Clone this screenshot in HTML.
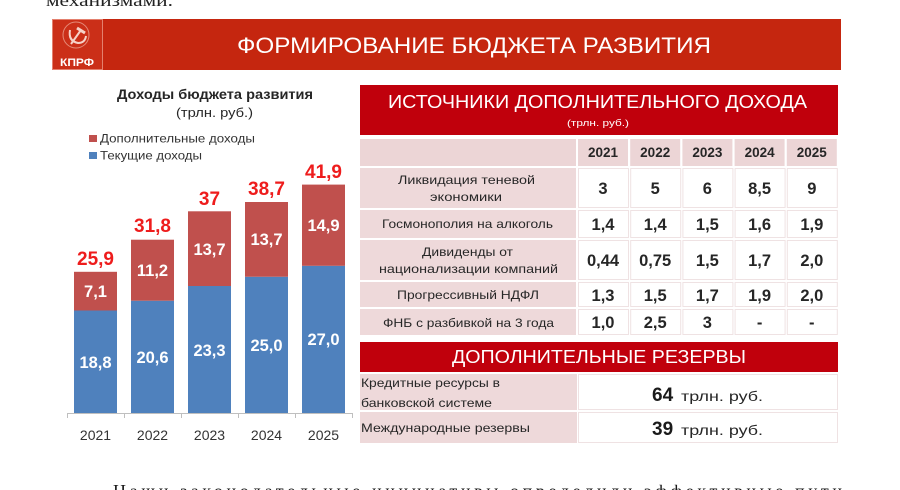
<!DOCTYPE html>
<html><head><meta charset="utf-8"><style>
html,body{margin:0;padding:0;background:#fff;}
svg{display:block;}
text{font-family:"Liberation Sans","DejaVu Sans",sans-serif;}
.serif{font-family:"Liberation Serif","DejaVu Serif",serif;}
</style></head><body>
<svg width="900" height="490" viewBox="0 0 900 490" xmlns="http://www.w3.org/2000/svg">
<rect width="900" height="490" fill="#fff"/>
<!-- top clipped text -->
<text class="serif" x="46" y="6" font-size="17" fill="#222" textLength="127" lengthAdjust="spacingAndGlyphs">механизмами.</text>

<!-- banner -->
<rect x="52" y="19" width="789" height="51" fill="#c5260f"/>
<rect x="52.5" y="19.5" width="50" height="50" fill="#cb2f18" stroke="#e4806e" stroke-width="1"/>
<circle cx="76" cy="35" r="13" fill="none" stroke="#e58a78" stroke-width="1"/>
<path d="M70 30 Q68 41 78 43 Q85 43 86 36" fill="none" stroke="#f6d2c8" stroke-width="2"/>
<path d="M71 44 L81 30" stroke="#f6d2c8" stroke-width="2"/>
<path d="M77 28 L85 33" stroke="#f6d2c8" stroke-width="3"/>
<text x="77" y="66" font-size="11" font-weight="bold" fill="#fff" text-anchor="middle" textLength="34" lengthAdjust="spacingAndGlyphs">КПРФ</text>
<text x="237" y="53" font-size="22" fill="#fff" textLength="474" lengthAdjust="spacingAndGlyphs">ФОРМИРОВАНИЕ БЮДЖЕТА РАЗВИТИЯ</text>

<!-- chart title & legend -->
<text x="117" y="99" font-size="13.5" font-weight="bold" fill="#262626" textLength="196" lengthAdjust="spacingAndGlyphs">Доходы бюджета развития</text>
<text x="176" y="117" font-size="13" fill="#262626" textLength="77" lengthAdjust="spacingAndGlyphs">(трлн. руб.)</text>
<rect x="89" y="135" width="8" height="7" fill="#c0504d"/>
<text x="100" y="142.5" font-size="12" fill="#333" textLength="155" lengthAdjust="spacingAndGlyphs">Дополнительные доходы</text>
<rect x="89" y="152" width="8" height="7" fill="#4f81bd"/>
<text x="100" y="159.5" font-size="12" fill="#333" textLength="102" lengthAdjust="spacingAndGlyphs">Текущие доходы</text>

<!-- bars -->
<g>
<rect x="74" y="310.5" width="43" height="102.5" fill="#4f81bd"/>
<rect x="74" y="271.8" width="43" height="38.7" fill="#c0504d"/>
<rect x="131" y="300.7" width="43" height="112.3" fill="#4f81bd"/>
<rect x="131" y="239.7" width="43" height="61" fill="#c0504d"/>
<rect x="188" y="286" width="43" height="127" fill="#4f81bd"/>
<rect x="188" y="211.3" width="43" height="74.7" fill="#c0504d"/>
<rect x="245" y="276.75" width="43" height="136.25" fill="#4f81bd"/>
<rect x="245" y="202" width="43" height="74.75" fill="#c0504d"/>
<rect x="302" y="265.8" width="43" height="147.2" fill="#4f81bd"/>
<rect x="302" y="184.6" width="43" height="81.2" fill="#c0504d"/>
</g>
<g stroke="#bfbfbf" stroke-width="1">
<line x1="67" y1="413.5" x2="352" y2="413.5"/>
<line x1="67.5" y1="413" x2="67.5" y2="418"/>
<line x1="124.5" y1="413" x2="124.5" y2="418"/>
<line x1="181.5" y1="413" x2="181.5" y2="418"/>
<line x1="238.5" y1="413" x2="238.5" y2="418"/>
<line x1="295.5" y1="413" x2="295.5" y2="418"/>
<line x1="352.5" y1="413" x2="352.5" y2="418"/>
</g>
<g font-size="16.5" font-weight="bold" fill="#fff" text-anchor="middle">
<text x="95.5" y="297">7,1</text>
<text x="95.5" y="368">18,8</text>
<text x="152.5" y="276">11,2</text>
<text x="152.5" y="363">20,6</text>
<text x="209.5" y="255">13,7</text>
<text x="209.5" y="356">23,3</text>
<text x="266.5" y="245">13,7</text>
<text x="266.5" y="351">25,0</text>
<text x="323.5" y="231">14,9</text>
<text x="323.5" y="345">27,0</text>
</g>
<g font-size="19" font-weight="bold" fill="#ee1c1c" text-anchor="middle">
<text x="95.5" y="265">25,9</text>
<text x="152.5" y="232">31,8</text>
<text x="209.5" y="205">37</text>
<text x="266.5" y="195">38,7</text>
<text x="323.5" y="178">41,9</text>
</g>
<g font-size="14" fill="#333" text-anchor="middle">
<text x="95.5" y="440">2021</text>
<text x="152.5" y="440">2022</text>
<text x="209.5" y="440">2023</text>
<text x="266.5" y="440">2024</text>
<text x="323.5" y="440">2025</text>
</g>

<!-- table 1 -->
<rect x="360" y="85" width="478" height="50" fill="#c0000c"/>
<text x="388" y="108" font-size="18" fill="#fff" textLength="419" lengthAdjust="spacingAndGlyphs">ИСТОЧНИКИ ДОПОЛНИТЕЛЬНОГО ДОХОДА</text>
<text x="598" y="126" font-size="9.5" fill="#fff" text-anchor="middle" textLength="62" lengthAdjust="spacingAndGlyphs">(трлн. руб.)</text>

<g fill="#ecd5d6">
<rect x="360" y="139" width="216" height="27"/>
<rect x="578" y="139" width="50" height="27"/>
<rect x="630.2" y="139" width="50" height="27"/>
<rect x="682.4" y="139" width="50" height="27"/>
<rect x="734.6" y="139" width="50" height="27"/>
<rect x="786.8" y="139" width="50" height="27"/>
</g>
<g fill="#eed9da">
<rect x="360" y="168" width="216" height="40"/>
<rect x="360" y="210" width="216" height="28"/>
<rect x="360" y="240" width="216" height="40"/>
<rect x="360" y="282" width="216" height="25"/>
<rect x="360" y="309" width="216" height="26"/>
</g>
<g fill="#fff" stroke="#efe2e3" stroke-width="1">
<rect x="578.5" y="168.5" width="50" height="39"/><rect x="630.7" y="168.5" width="50" height="39"/><rect x="682.9" y="168.5" width="50" height="39"/><rect x="735.1" y="168.5" width="50" height="39"/><rect x="787.3" y="168.5" width="50" height="39"/>
<rect x="578.5" y="210.5" width="50" height="27"/><rect x="630.7" y="210.5" width="50" height="27"/><rect x="682.9" y="210.5" width="50" height="27"/><rect x="735.1" y="210.5" width="50" height="27"/><rect x="787.3" y="210.5" width="50" height="27"/>
<rect x="578.5" y="240.5" width="50" height="39"/><rect x="630.7" y="240.5" width="50" height="39"/><rect x="682.9" y="240.5" width="50" height="39"/><rect x="735.1" y="240.5" width="50" height="39"/><rect x="787.3" y="240.5" width="50" height="39"/>
<rect x="578.5" y="282.5" width="50" height="24"/><rect x="630.7" y="282.5" width="50" height="24"/><rect x="682.9" y="282.5" width="50" height="24"/><rect x="735.1" y="282.5" width="50" height="24"/><rect x="787.3" y="282.5" width="50" height="24"/>
<rect x="578.5" y="309.5" width="50" height="25"/><rect x="630.7" y="309.5" width="50" height="25"/><rect x="682.9" y="309.5" width="50" height="25"/><rect x="735.1" y="309.5" width="50" height="25"/><rect x="787.3" y="309.5" width="50" height="25"/>
</g>
<g font-size="13.5" font-weight="bold" fill="#262626" text-anchor="middle">
<text x="603" y="157">2021</text><text x="655.2" y="157">2022</text><text x="707.4" y="157">2023</text><text x="759.6" y="157">2024</text><text x="811.8" y="157">2025</text>
</g>
<g font-size="12" fill="#262626">
<text x="398" y="184" textLength="137" lengthAdjust="spacingAndGlyphs">Ликвидация теневой</text>
<text x="430" y="201" textLength="72" lengthAdjust="spacingAndGlyphs">экономики</text>
<text x="382" y="228" textLength="171" lengthAdjust="spacingAndGlyphs">Госмонополия на алкоголь</text>
<text x="422" y="256" textLength="91" lengthAdjust="spacingAndGlyphs">Дивиденды от</text>
<text x="379" y="273" textLength="179" lengthAdjust="spacingAndGlyphs">национализации компаний</text>
<text x="397" y="299" textLength="142" lengthAdjust="spacingAndGlyphs">Прогрессивный НДФЛ</text>
<text x="383" y="327" textLength="171" lengthAdjust="spacingAndGlyphs">ФНБ с разбивкой на 3 года</text>
</g>
<g font-size="16.5" font-weight="bold" fill="#262626" text-anchor="middle">
<text x="603" y="194">3</text><text x="655.2" y="194">5</text><text x="707.4" y="194">6</text><text x="759.6" y="194">8,5</text><text x="811.8" y="194">9</text>
<text x="603" y="230">1,4</text><text x="655.2" y="230">1,4</text><text x="707.4" y="230">1,5</text><text x="759.6" y="230">1,6</text><text x="811.8" y="230">1,9</text>
<text x="603" y="266">0,44</text><text x="655.2" y="266">0,75</text><text x="707.4" y="266">1,5</text><text x="759.6" y="266">1,7</text><text x="811.8" y="266">2,0</text>
<text x="603" y="301">1,3</text><text x="655.2" y="301">1,5</text><text x="707.4" y="301">1,7</text><text x="759.6" y="301">1,9</text><text x="811.8" y="301">2,0</text>
<text x="603" y="328">1,0</text><text x="655.2" y="328">2,5</text><text x="707.4" y="328">3</text><text x="759.6" y="328">-</text><text x="811.8" y="328">-</text>
</g>

<!-- table 2 -->
<rect x="360" y="342" width="478" height="30" fill="#c0000c"/>
<text x="452" y="363" font-size="18" fill="#fff" textLength="294" lengthAdjust="spacingAndGlyphs">ДОПОЛНИТЕЛЬНЫЕ РЕЗЕРВЫ</text>
<rect x="360" y="374" width="217" height="36" fill="#eed9da"/>
<rect x="360" y="412" width="217" height="31" fill="#eed9da"/>
<rect x="578.5" y="374.5" width="259" height="35" fill="#fff" stroke="#efe2e3"/>
<rect x="578.5" y="412.5" width="259" height="30" fill="#fff" stroke="#efe2e3"/>
<g font-size="12" fill="#262626">
<text x="361" y="387" textLength="139" lengthAdjust="spacingAndGlyphs">Кредитные ресурсы в</text>
<text x="361" y="407" textLength="131" lengthAdjust="spacingAndGlyphs">банковской системе</text>
<text x="361" y="432" textLength="169" lengthAdjust="spacingAndGlyphs">Международные резервы</text>
</g>
<text x="652" y="401" font-size="19" font-weight="bold" fill="#1a1a1a">64</text>
<text x="681" y="401" font-size="14" fill="#262626" textLength="82" lengthAdjust="spacingAndGlyphs">трлн. руб.</text>
<text x="652" y="435" font-size="19" font-weight="bold" fill="#1a1a1a">39</text>
<text x="681" y="435" font-size="14" fill="#262626" textLength="82" lengthAdjust="spacingAndGlyphs">трлн. руб.</text>

<!-- bottom clipped text -->
<text class="serif" x="113" y="497" font-size="18" fill="#1a1a1a" textLength="729" lengthAdjust="spacing">Наши законодательные инициативы определили эффективные пути</text>
</svg>
</body></html>
